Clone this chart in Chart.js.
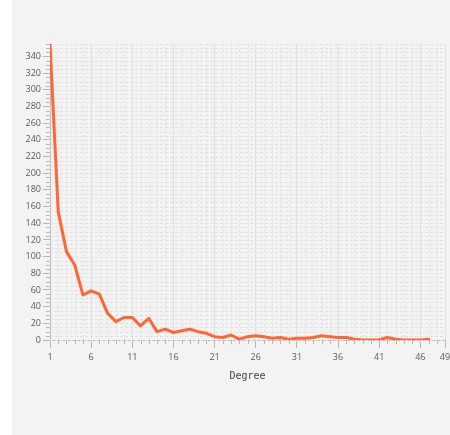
<!DOCTYPE html>
<html>
<head>
<meta charset="utf-8">
<script src="https://cdn.jsdelivr.net/npm/chart.js@4.4.1/dist/chart.umd.min.js"></script>
<style>
  html, body { margin: 0; padding: 0; background: #ffffff; }
  #wrap { position: absolute; left: 12px; top: 0; width: 438px; height: 435px; background: #f3f3f3; }
  canvas { display: block; }
</style>
</head>
<body>
<div id="wrap"><canvas id="c" width="438" height="435"></canvas></div>
<script>
const degrees = [1,2,3,4,5,6,7,8,9,10,11,12,13,14,15,16,17,18,19,20,21,22,23,24,25,26,27,28,29,30,31,32,33,34,35,36,37,38,39,40,41,42,43,44,45,46,47];
const counts = [355,154,106,90,54,59,55,32,22,27,27,17,26,10,13,9,11,13,10,8,4,3,6,1,4,5,4,2,3,1,2,2,3,5,4,3,3,1,0,0,0,3,1,0,0,0,1];
const xTickLabels = [1,6,11,16,21,26,31,36,41,46,49];
const yTickLabels = [0,20,40,60,80,100,120,140,160,180,200,220,240,260,280,300,320,340];
const xAxisTitle = 'Degree';

const minorGrid = {
  id: 'minorGrid',
  beforeDatasetsDraw(chart) {
    const ctx = chart.ctx, a = chart.chartArea;
    const xs = chart.scales.x, ys = chart.scales.y;
    ctx.save();
    ctx.lineWidth = 1;
    ctx.setLineDash([3, 2]);
    ctx.strokeStyle = '#e6e6e6';
    for (let v = Math.ceil(xs.min); v <= xs.max; v++) {
      if (xTickLabels.includes(v)) continue;
      const px = Math.round(xs.getPixelForValue(v)) + 0.5;
      ctx.beginPath(); ctx.moveTo(px, a.top); ctx.lineTo(px, a.bottom); ctx.stroke();
    }
    ctx.strokeStyle = '#e0e0e0';
    for (let v = 0; v <= ys.max; v += 5) {
      const py = Math.round(ys.getPixelForValue(v)) + 0.5;
      ctx.beginPath(); ctx.moveTo(a.left, py); ctx.lineTo(a.right, py); ctx.stroke();
    }
    // minor tick marks
    ctx.setLineDash([]);
    ctx.strokeStyle = '#b8b8b8';
    for (let v = Math.ceil(xs.min); v <= xs.max; v++) {
      if (xTickLabels.includes(v)) continue;
      const px = Math.round(xs.getPixelForValue(v)) + 0.5;
      ctx.beginPath(); ctx.moveTo(px, a.bottom); ctx.lineTo(px, a.bottom + 4); ctx.stroke();
    }
    for (let v = 0; v <= ys.max; v += 5) {
      if (yTickLabels.includes(v)) continue;
      const py = Math.round(ys.getPixelForValue(v)) + 0.5;
      ctx.beginPath(); ctx.moveTo(a.left - 4, py); ctx.lineTo(a.left, py); ctx.stroke();
    }
    ctx.restore();
  }
};

new Chart(document.getElementById('c'), {
  type: 'line',
  data: {
    datasets: [{
      data: degrees.map((d, i) => ({ x: d, y: counts[i] })),
      borderColor: '#ff6633',
      borderWidth: 3,
      pointRadius: 0,
      tension: 0,
      borderJoinStyle: 'round',
      borderCapStyle: 'round'
    }]
  },
  options: {
    responsive: false,
    animation: false,
    layout: { padding: { top: 44, right: 5, bottom: 50, left: 0 } },
    plugins: { legend: { display: false }, tooltip: { enabled: false } },
    scales: {
      x: {
        type: 'linear',
        min: 1, max: 49,
        afterBuildTicks: (s) => { s.ticks = xTickLabels.map(v => ({ value: v })); },
        afterFit: (s) => { s.height = 45; s.paddingRight = 0; s.paddingLeft = 0; },
        ticks: { color: '#5a5a5a', font: { family: 'Open Sans', size: 9 }, padding: 4, maxRotation: 0, autoSkip: false },
        grid: { color: '#e0e0e0', tickColor: '#b8b8b8', tickLength: 8 },
        border: { color: '#b8b8b8' },
        title: { display: true, text: xAxisTitle, color: '#444', font: { family: 'DejaVu Sans Mono', size: 10 }, padding: { top: 0, bottom: 3 } }
      },
      y: {
        type: 'linear',
        min: 0, max: 355,
        afterBuildTicks: (s) => { s.ticks = yTickLabels.map(v => ({ value: v })); },
        afterFit: (s) => { s.width = 38; s.paddingTop = 0; s.paddingBottom = 0; },
        ticks: { color: '#5a5a5a', font: { family: 'Open Sans', size: 9 }, padding: 2 },
        grid: { color: 'rgba(0,0,0,0)', tickColor: '#b8b8b8', tickLength: 7 },
        border: { color: '#b8b8b8' }
      }
    }
  },
  plugins: [minorGrid]
});
</script>
</body>
</html>
